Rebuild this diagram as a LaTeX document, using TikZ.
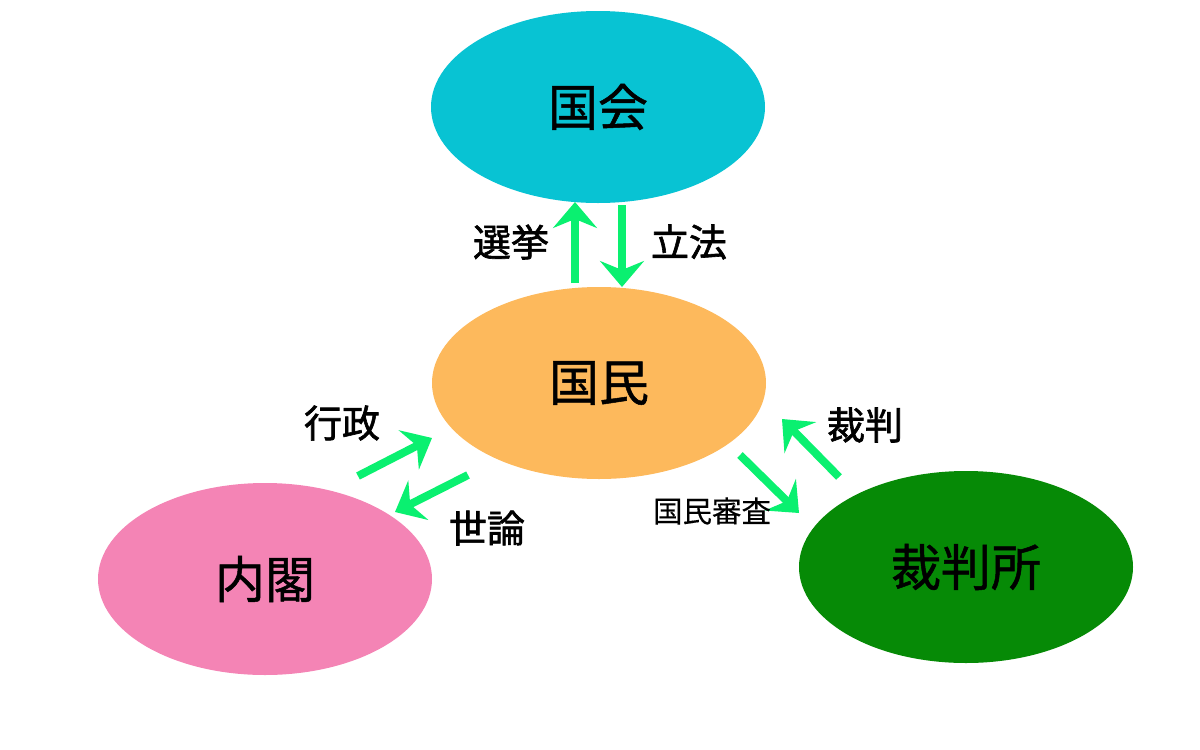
\documentclass[tikz,border=0pt]{standalone}
\usepackage{fontspec}
\usetikzlibrary{shapes.geometric,arrows.meta,calc}
\newfontfamily\jpmain[FakeBold=1.0]{Noto Sans CJK JP}
\newfontfamily\jplab[FakeBold=1.6]{Noto Sans CJK JP}
\newfontfamily\jpsmall[FakeBold=0.3]{Noto Sans CJK JP}
\definecolor{kokkaicol}{HTML}{08C3D3}
\definecolor{kokumincol}{HTML}{FDB95C}
\definecolor{naikakucol}{HTML}{F484B5}
\definecolor{saibancol}{HTML}{068A06}
\definecolor{arrowcol}{HTML}{0AF070}
\tikzset{
  blob/.style={ellipse, draw=none, minimum width=334pt, minimum height=192pt, inner sep=0pt, font=\jpmain\fontsize{50}{54}\selectfont, text=black},
  flow/.style={draw=arrowcol, line width=8pt, -{Stealth[length=26pt, width=44pt, inset=9pt]}},
  lab/.style={font=\jplab\fontsize{38}{42}\selectfont, text=black, inner sep=0pt},
  smalllab/.style={font=\jpsmall\fontsize{29.5}{33}\selectfont, text=black, inner sep=0pt}
}
\begin{document}
\begin{tikzpicture}[x=1pt,y=-1pt]
\useasboundingbox (0,0) rectangle (1200,750);
\node[blob, fill=kokkaicol] (kokkai) at (598,107) {国会};
\node[blob, fill=kokumincol] (kokumin) at (599,383) {国民};
\node[blob, fill=naikakucol] (naikaku) at (265,579) {内閣};
\node[blob, fill=saibancol] (saiban) at (966,567) {裁判所};
% endpoints
\coordinate (senkyoS) at ($(kokumin.center)+(-24,-100)$);
\coordinate (senkyoE) at ($(kokkai.center)+(-23,95)$);
\coordinate (rippoS) at ($(kokkai.center)+(24,98)$);
\coordinate (rippoE) at ($(kokumin.center)+(23,-96)$);
\coordinate (gyoseiS) at (358,476);
\coordinate (gyoseiE) at (432,438);
\coordinate (yoronS) at (468,475);
\coordinate (yoronE) at (395,512);
\coordinate (saibanS) at (839,477);
\coordinate (saibanE) at (782,419);
\coordinate (shinsaS) at (740,455);
\coordinate (shinsaE) at (799,513);
\draw[flow] (senkyoS) -- (senkyoE);
\draw[flow] (rippoS) -- (rippoE);
\draw[flow] (gyoseiS) -- (gyoseiE);
\draw[flow] (yoronS) -- (yoronE);
\draw[flow] (saibanS) -- (saibanE);
\draw[flow] (shinsaS) -- (shinsaE);
\node[lab] (lsenkyo) at (511,242) {選挙};
\node[lab] (lrippo) at (689,242) {立法};
\node[lab] (lgyosei) at (342,423) {行政};
\node[lab] (lyoron) at (487,528) {世論};
\node[lab] (lsaiban) at (865,425) {裁判};
\node[smalllab] (lshinsa) at (712,511) {国民審査};
\end{tikzpicture}
\end{document}
